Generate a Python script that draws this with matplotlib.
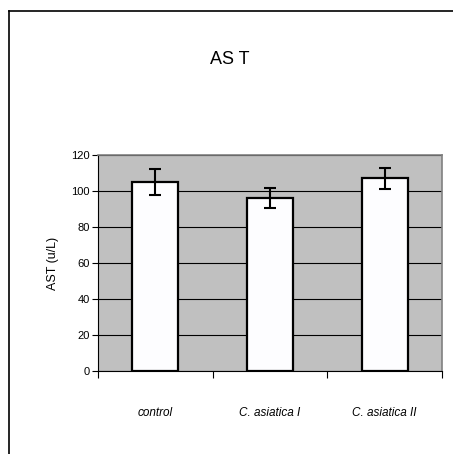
import matplotlib
matplotlib.use("Agg")
import matplotlib.pyplot as plt
from matplotlib.lines import Line2D

categories = ["control", "C. asiatica I", "C. asiatica II"]
values = [105, 96, 107]
errors = [7, 5.5, 5.7]
yticks = [0, 20, 40, 60, 80, 100, 120]

plt.rcParams["font.family"] = ["Liberation Sans", "DejaVu Sans"]

W, H = 453, 454
fig = plt.figure(figsize=(W / 100, H / 100), dpi=100)
ax = fig.add_axes([98 / W, 1 - 371 / H, 344 / W, 216 / H])

ax.set_facecolor("#c0c0c0")
ax.set_axisbelow(True)
ax.yaxis.grid(True, color="black", linewidth=0.8)

x = list(range(len(categories)))
ax.bar(x, values, width=0.4, color="#fdfdff", edgecolor="black", linewidth=1.6, zorder=3)
ax.errorbar(x, values, yerr=errors, fmt="none", ecolor="black", elinewidth=1.5,
            capsize=4, capthick=1.5, zorder=4)

ax.set_xlim(-0.5, len(categories) - 0.5)
ax.set_ylim(0, 120)
ax.set_yticks(yticks)
ax.tick_params(axis="y", labelsize=8, length=4, width=0.8, pad=2)

ax.set_xticks([i - 0.5 for i in range(len(categories) + 1)])
ax.set_xticklabels([])
ax.tick_params(axis="x", which="major", length=5, width=0.8)
ax.set_xticks(x, minor=True)
ax.set_xticklabels(categories, minor=True, style="italic", fontsize=8.5)
ax.tick_params(axis="x", which="minor", length=0, pad=26)

for s in ["top", "right"]:
    ax.spines[s].set_color("#808080")
    ax.spines[s].set_linewidth(1.2)
for s in ["left", "bottom"]:
    ax.spines[s].set_color("black")
    ax.spines[s].set_linewidth(0.8)

ax.set_ylabel("AST (u/L)", fontsize=9, labelpad=9)
fig.text(230 / W, 1 - 59 / H, "AS T", ha="center", va="center", fontsize=13)

# outer frame lines (top and left)
fig.add_artist(Line2D([9 / W, 9 / W], [1 - 11 / H, 0], color="black", linewidth=1.2,
                      transform=fig.transFigure))
fig.add_artist(Line2D([9 / W, 1], [1 - 11 / H, 1 - 11 / H], color="black", linewidth=1.2,
                      transform=fig.transFigure))

fig.savefig("out.png", dpi=100)
